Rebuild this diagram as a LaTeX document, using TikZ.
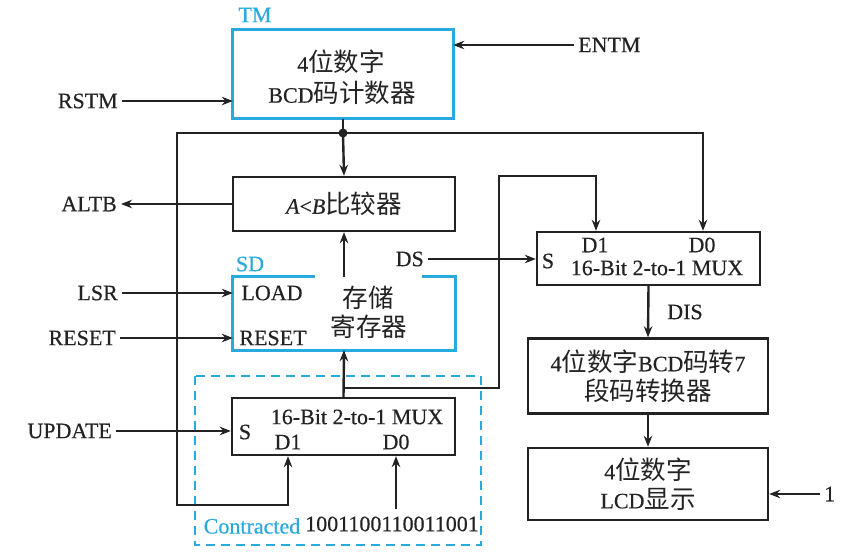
\documentclass[tikz,border=0pt]{standalone}
\usepackage{fontspec}
\setmainfont[FakeBold=0.4]{Liberation Serif}
\newfontfamily\cjk[Scale=1.16]{Noto Sans CJK SC}
\newcommand{\zh}[1]{{\cjk #1}}
\usetikzlibrary{arrows.meta}
\definecolor{tmcyan}{RGB}{40,170,222}
\definecolor{ink}{RGB}{35,35,35}
\begin{document}
\begin{tikzpicture}[x=1pt,y=-1pt,
  wire/.style={line width=2.4pt, ink},
  arr/.style={wire,-{Stealth[length=11pt,width=8.5pt]}},
  blk/.style={draw=ink, line width=2.4pt, fill=white, inner sep=0pt, align=center,
    font=\fontsize{22}{29}\selectfont, text=ink},
  cbx/.style={fill=white, inner sep=0pt},
  cline/.style={draw=tmcyan, line width=3pt},
  lbl/.style={font=\fontsize{22}{24}\selectfont, inner sep=4pt, text=ink},
  txt/.style={font=\fontsize{22}{24}\selectfont, inner sep=0pt, text=ink},
  clbl/.style={font=\fontsize{22}{24}\selectfont, inner sep=0pt, text=tmcyan}]
\useasboundingbox[fill=white] (0,0) rectangle (865,556);

% ---- blocks ----
\node[cbx, minimum width=220pt, minimum height=89pt] (tm) at (343,74) {};
\draw[cline] (tm.north west) rectangle (tm.south east);
\node[txt] (tmA) at (341,62) {4\zh{位数字}};
\node[txt] (tmB) at (342,93) {BCD\zh{码计数器}};
\node[clbl] (tmL) at (255,15) {TM};

\node[blk, minimum width=222pt, minimum height=54pt] (cmp) at (344,204) {\textit{A}<\textit{B}\zh{比较器}};

\node[cbx, minimum width=222pt, minimum height=73pt] (sd) at (344,313.5) {};
\draw[cline] ([xshift=82pt]sd.north west) -- (sd.north west) -- (sd.south west)
  -- (sd.south east) -- (sd.north east) -- ([xshift=-33pt]sd.north east);
\node[clbl] (sdL) at (250,264) {SD};
\node[txt] (load) at (272,293) {LOAD};
\node[txt] (rst) at (273,338) {RESET};
\node[txt] (sdA) at (368,298) {\zh{存储}};
\node[txt] (sdB) at (369,327) {\zh{寄存器}};

\node[blk, minimum width=223pt, minimum height=53pt] (mux2) at (648.5,258.5) {};
\node[txt] (m2d1) at (595,245) {D1};
\node[txt] (m2d0) at (702,245) {D0};
\node[txt] (m2s) at (548,261) {S};
\node[txt] (m2t) at (657,268) {16-Bit 2-to-1 MUX};

\node[blk, minimum width=240pt, minimum height=75pt] (conv) at (648,376) {4\zh{位数字}BCD\zh{码转}7\\\zh{段码转换器}};
\node[blk, minimum width=240pt, minimum height=72pt] (lcd) at (648,484) {4\zh{位数字}\\LCD\zh{显示}};

% contracted region
\draw[tmcyan, line width=2pt, dash pattern=on 9pt off 6pt] (195,376) rectangle (481,545);
\node[blk, minimum width=223pt, minimum height=57pt] (mux1) at (343.5,426.5) {};
\node[txt] (m1t) at (357,417) {16-Bit 2-to-1 MUX};
\node[txt] (m1s) at (245,432) {S};
\node[txt] (m1d1) at (288,442) {D1};
\node[txt] (m1d0) at (396,442) {D0};
\node[clbl] (ctr) at (252,526) {Contracted};
\node[txt] (const) at (392,524) {1001100110011001};

% ---- outside labels ----
\node[lbl, anchor=west] (entm) at (574,45) {ENTM};
\node[lbl, anchor=east] (rstm) at (122,101) {RSTM};
\node[lbl, anchor=east] (altb) at (121,204) {ALTB};
\node[lbl, anchor=east] (lsr) at (122,293) {LSR};
\node[lbl, anchor=east] (reset) at (120,338) {RESET};
\node[lbl, anchor=east] (upd) at (116,431) {UPDATE};
\node[lbl, anchor=east] (ds) at (428,259) {DS};
\node[lbl] (dis) at (685,312) {DIS};
\node[lbl, anchor=west] (one) at (820,494) {1};

% ---- coordinates ----
\coordinate (bus) at (343,133);
\coordinate (busL) at (177,133);
\coordinate (busR) at (703,133);
\coordinate (busLB) at (177,505);
\coordinate (d1in) at (288,505);
\coordinate (d0in) at (396,509);
\coordinate (br) at (343.5,388);
\coordinate (brR) at (499,388);
\coordinate (brT) at (499,176);
\coordinate (brD) at (596,176);

% ---- connectors ----
\draw[arr] (entm.west) -- (tm.east |- entm);
\draw[arr] (rstm.east) -- (tm.west |- rstm);
\draw[wire] (tm.south) -- (bus);
\draw[arr] (bus) -- (cmp.north);
\draw[arr] (bus) -- (busL) -- (busLB) -- (d1in) -- (mux1.south -| d1in);
\draw[arr] (bus) -- (busR) -- (busR |- mux2.north);
\fill[ink] (bus) circle (4.5pt);
\draw[arr] (cmp.west) -- (altb.east);
\draw[arr] (lsr.east) -- (sd.west |- lsr);
\draw[arr] (reset.east) -- (sd.west |- reset);
\draw[arr] (upd.east) -- (mux1.west |- upd);
\draw[arr] (ds.east) -- (mux2.west |- ds);
\draw[arr] (sd.north) -- (cmp.south);
\draw[arr] (mux1.north) -- (sd.south);
\draw[arr] (br) -- (brR) -- (brT) -- (brD) -- (brD |- mux2.north);
\draw[arr] (d0in) -- (d0in |- mux1.south);
\draw[arr] (mux2.south) -- (conv.north);
\draw[arr] (conv.south) -- (lcd.north);
\draw[arr] (one.west) -- (lcd.east |- one);
\end{tikzpicture}
\end{document}
